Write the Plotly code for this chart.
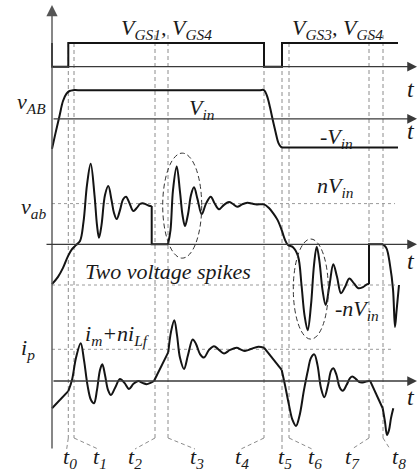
import plotly.graph_objects as go

# ------------------------------------------------------------------ data
# switching instants t0 ... t8 (time in arbitrary units)
T_MARKS = [1.63, 2.2, 10.3, 11.6, 21.2, 23.0, 23.7, 31.7, 33.1]
T_LABELS = ["t<sub>0</sub>", "t<sub>1</sub>", "t<sub>2</sub>", "t<sub>3</sub>", "t<sub>4</sub>",
            "t<sub>5</sub>", "t<sub>6</sub>", "t<sub>7</sub>", "t<sub>8</sub>"]

# gate drive (0 = off, 1 = on)
GATE_T = [0.0, 0.0, 1.63, 1.63, 21.2, 21.2, 23.0, 23.0, 34.6]
GATE_V = [1, 0, 0, 1, 1, 0, 0, 1, 1]

# bridge voltage v_AB, in units of V_in
VAB_T = [0.0, 0.35, 0.75, 1.1, 1.45, 1.75, 2.1, 2.6, 20.7, 21.2, 21.5, 21.8, 22.05, 22.35, 22.65,
         22.9, 23.1, 23.6, 34.6]
VAB_V = [-1.05, -0.5, 0.1, 0.62, 0.88, 0.97, 1.0, 1.0, 1.0, 1.0, 0.8, 0.4, 0.0, -0.45, -0.85,
         -0.98, -1.0, -1.0, -1.0]

# transformer voltage v_ab, in units of n*V_in
VS_RING1_T = [0.0, 0.6, 1.1, 1.6, 2.0, 2.4, 2.8, 3.15, 3.5, 3.87, 4.25, 4.5, 4.7, 4.95, 5.3, 5.63,
              5.95, 6.2, 6.47, 6.8, 7.1, 7.4, 7.75, 8.13, 8.5, 8.8, 9.07, 9.4, 9.8, 9.97]
VS_RING1_V = [-0.98, -0.80, -0.58, -0.29, -0.12, -0.02, 0.08, 0.55, 1.46, 1.98, 1.21, 0.47, 0.16, 0.47,
              1.21, 1.43, 1.09, 0.77, 0.62, 0.84, 1.10, 1.17, 1.01, 0.82, 0.90, 0.99, 1.01, 0.98, 0.94, 0.94]
VS_DROP_T = [9.97, 9.97, 11.6]
VS_DROP_V = [0.94, 0.0, 0.0]
VS_RING2_T = [11.6, 11.85, 12.1, 12.47, 12.8, 13.05, 13.3, 13.6, 13.9, 14.2, 14.55, 14.97, 15.4, 15.87,
              16.25, 16.7, 17.2, 17.7, 18.1, 18.53, 19.0, 19.53, 20.0, 20.47, 21.2, 21.7, 22.13, 22.55,
              22.97, 23.3, 23.6, 24.1, 24.6, 24.95, 25.25, 25.57, 25.9, 26.2, 26.47, 26.75, 27.05, 27.37,
              27.75, 28.13, 28.5, 28.9, 29.3, 29.73, 30.2, 30.63, 31.1, 31.53, 31.7]
VS_RING2_V = [0.0, 0.35, 1.33, 1.91, 1.29, 0.72, 0.45, 0.74, 1.21, 1.40, 1.11, 0.74, 1.00, 1.17,
              1.01, 0.86, 0.97, 1.04, 0.99, 0.92, 0.98, 1.02, 1.00, 0.98, 0.98, 0.89, 0.76, 0.60,
              0.35, 0.11, -0.02, -0.07, -0.29, -1.00, -1.74, -2.11, -1.49, -0.51, -0.06, -0.43, -1.12, -1.49,
              -1.00, -0.49, -0.80, -1.20, -1.05, -0.84, -0.96, -1.08, -1.05, -0.98, -0.98]
VS_RISE_T = [31.7, 31.7, 33.1]
VS_RISE_V = [-0.98, 0.0, 0.0]
VS_RING3_T = [33.1, 33.45, 33.8, 34.1, 34.3, 34.45, 34.7]
VS_RING3_V = [0.0, -0.1, -0.51, -1.1, -2.03, -1.65, -1.0]

# primary current i_p, in units of (i_m + n*i_Lf)
IP_A_T = [0.0, 1.63]
IP_A_V = [-0.86, -0.32]
IP_B_T = [1.63, 2.0, 2.4, 2.87, 3.2, 3.55, 3.9, 4.2, 4.5, 4.8, 5.03, 5.3, 5.6, 5.9, 6.3, 6.8, 7.25,
          7.7, 8.15, 8.63, 9.05, 9.47, 9.85, 10.2]
IP_B_V = [-0.32, 0.03, 0.73, 1.19, 0.66, -0.13, -0.60, -0.70, -0.28, 0.35, 0.53, 0.19, -0.28, -0.44,
          -0.22, 0.06, -0.06, -0.25, -0.09, 0.0, -0.06, -0.10, -0.06, 0.0]
IP_C_T = [10.2, 11.63]
IP_C_V = [0.0, 0.91]
IP_D_T = [11.63, 11.9, 12.23, 12.5, 12.8, 13.2, 13.6, 14.07, 14.4, 14.8, 15.2, 15.7, 16.2, 16.7, 17.2,
          17.8, 18.47, 18.9, 19.3, 19.9, 20.63, 21.2]
IP_D_V = [0.91, 1.55, 1.92, 1.45, 0.73, 0.38, 0.82, 1.31, 1.17, 0.85, 0.74, 0.98, 1.10, 0.98, 0.87,
          0.98, 1.05, 0.99, 0.95, 1.01, 1.08, 1.05]
IP_E_T = [21.2, 22.97]
IP_E_V = [1.05, 0.35]
IP_F_T = [22.97, 23.3, 23.7, 24.05, 24.4, 24.75, 25.2, 25.6, 25.9, 26.23, 26.55, 26.9, 27.23, 27.6,
          27.9, 28.13, 28.45, 28.75, 29.07, 29.45, 29.8, 30.03, 30.4, 30.7, 30.97, 31.4, 31.8]
IP_F_V = [0.35, -0.13, -0.76, -1.23, -1.42, -1.10, -0.28, 0.35, 0.73, 0.84, 0.50, -0.22, -0.51, -0.13,
          0.32, 0.40, 0.19, -0.19, -0.31, -0.13, 0.09, 0.14, 0.06, -0.03, -0.05, -0.02, 0.01]
IP_G_T = [31.8, 33.07]
IP_G_V = [0.01, -0.86]
IP_H_T = [33.07, 33.3, 33.5, 33.7, 33.9, 34.13]
IP_H_V = [-0.86, -1.29, -1.70, -1.55, -1.17, -0.86]

# ---------------------------------------------------------------- layout
W, H = 420, 473
X0_PX, PX_PER_T = 52.0, 10.0            # vertical axis position and time scale
# zero-line position (px from top) and px per unit for each channel
PANELS = {"y": (66.7, 23.7), "y2": (118.8, 28.65), "y3": (244.3, 40.7), "y4": (381.0, 31.7)}

INK = "#141414"
AXIS = "#3a3a3a"
GUIDE = "#8c8c8c"
FONT = "Liberation Serif, Times New Roman, serif"


def tx(px):
    """horizontal pixel -> time units"""
    return (px - X0_PX) / PX_PER_T


def py(pix):
    """vertical pixel -> paper fraction"""
    return 1 - pix / H


fig = go.Figure()


def wave(t, v, axis, shape="spline"):
    line = dict(color=INK, width=2, shape=shape)
    if shape == "spline":
        line["smoothing"] = 1.0
    fig.add_trace(go.Scatter(x=t, y=v, yaxis=axis, mode="lines", line=line,
                             hoverinfo="skip", showlegend=False))


wave(GATE_T, GATE_V, "y", "linear")
wave(VAB_T, VAB_V, "y2")
wave(VS_RING1_T, VS_RING1_V, "y3")
wave(VS_DROP_T, VS_DROP_V, "y3", "linear")
wave(VS_RING2_T, VS_RING2_V, "y3")
wave(VS_RISE_T, VS_RISE_V, "y3", "linear")
wave(VS_RING3_T, VS_RING3_V, "y3")
for tt, vv, sh in [(IP_A_T, IP_A_V, "linear"), (IP_B_T, IP_B_V, "spline"),
                   (IP_C_T, IP_C_V, "linear"), (IP_D_T, IP_D_V, "spline"),
                   (IP_E_T, IP_E_V, "linear"), (IP_F_T, IP_F_V, "spline"),
                   (IP_G_T, IP_G_V, "linear"), (IP_H_T, IP_H_V, "spline")]:
    wave(tt, vv, "y4", sh)

shapes = []
# dashed instants and their leaders to the labels
DASH_TOP = [43, 43, 35, 35, 43, 43, 43, 35, 35]
LEADER_END = [66.7, 98, 135, 195, 241, 282, 312, 352, 390]
for tm, top, lend in zip(T_MARKS, DASH_TOP, LEADER_END):
    dash = dict(color=GUIDE, width=1, dash="4px,3px")
    shapes.append(dict(type="line", xref="x", yref="paper", x0=tm, x1=tm,
                       y0=py(top), y1=py(438), line=dash, layer="below"))
    shapes.append(dict(type="line", xref="x", yref="paper", x0=tm, x1=tx(lend),
                       y0=py(438), y1=py(449), line=dash, layer="below"))

# dotted reference levels
for axis, lvl, end in [("y3", 1, 34.3), ("y3", -1, 34.3), ("y4", 1, 34.1)]:
    shapes.append(dict(type="line", xref="x", yref=axis, x0=0, x1=end, y0=lvl, y1=lvl,
                       line=dict(color="#9a9a9a", width=1, dash="dot"), layer="below"))

# the two voltage spikes
for x0, x1, y0, y1 in [(11.07, 14.97, -0.34, 2.24), (24.13, 27.63, -2.33, 0.13)]:
    shapes.append(dict(type="circle", xref="x", yref="y3", x0=x0, x1=x1, y0=y0, y1=y1,
                       line=dict(color="#333", width=1, dash="5px,3px")))

ann = []
# vertical axis
ann.append(dict(x=0, y=py(5), xref="x", yref="paper", text="", showarrow=True,
                ax=0, ay=445, axref="pixel", ayref="pixel", arrowhead=2, arrowsize=1.6,
                arrowwidth=1.4, arrowcolor="#555"))
# time axes of each channel
for axis, left in [("y", 52), ("y2", 52), ("y3", 45), ("y4", 52)]:
    ann.append(dict(x=tx(417), y=0, xref="x", yref=axis, text="", showarrow=True,
                    ax=-(417 - left), ay=0, axref="pixel", ayref="pixel", arrowhead=2,
                    arrowsize=1.5, arrowwidth=1.3, arrowcolor=AXIS))


def label(text, xp, yp, size=22):
    ann.append(dict(x=xp / W, y=py(yp), xref="paper", yref="paper", text="<i>" + text + "</i>",
                    showarrow=False, xanchor="center", yanchor="middle",
                    font=dict(family=FONT, size=size, color="#1a1a1a")))


label("V<sub>GS1</sub>, V<sub>GS4</sub>", 166, 29)
label("V<sub>GS3</sub>, V<sub>GS4</sub>", 337, 29)
label("v<sub>AB</sub>", 31, 103)
label("V<sub>in</sub>", 202, 109)
label("-V<sub>in</sub>", 336, 138)
label("nV<sub>in</sub>", 335, 187)
label("v<sub>ab</sub>", 33, 208)
label("Two voltage spikes", 168, 271)
label("-nV<sub>in</sub>", 357, 310)
label("i<sub>p</sub>", 28, 349)
label("i<sub>m</sub>+ni<sub>Lf</sub>", 117, 335)
for yp in (89, 131, 261, 397):
    label("t", 411, yp, 24)
for txt, xp in zip(T_LABELS, [70, 100, 135, 197, 242, 285, 315, 352, 399]):
    label(txt, xp, 458)

layout = dict(width=W, height=H, margin=dict(l=0, r=0, t=0, b=0), paper_bgcolor="white",
              plot_bgcolor="white", showlegend=False, shapes=shapes, annotations=ann,
              xaxis=dict(range=[tx(0), tx(W)], domain=[0, 1], visible=False, fixedrange=True))
for key, (z, s) in PANELS.items():
    name = "yaxis" if key == "y" else "yaxis" + key[1:]
    ax = dict(range=[(z - H) / s, z / s], domain=[0, 1], visible=False, fixedrange=True)
    if key != "y":
        ax["overlaying"] = "y"
    layout[name] = ax
fig.update_layout(**layout)

fig.write_html("out.html")
